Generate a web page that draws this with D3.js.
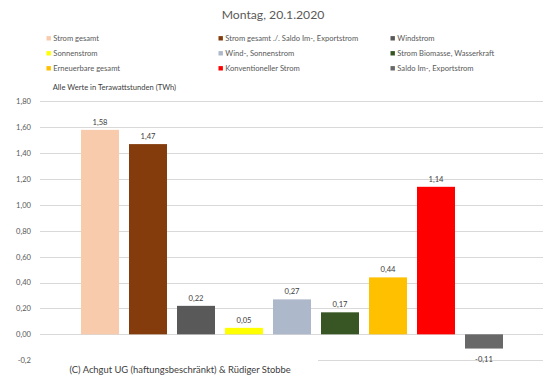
<!DOCTYPE html>
<html><head><meta charset="utf-8">
<script src="https://cdn.jsdelivr.net/npm/d3@7"></script>
<style>body{margin:0;background:#fff}svg{display:block}text{font-family:Lato,"Open Sans",sans-serif}</style>
</head><body>
<script>
const categories = ["Strom gesamt","Strom gesamt ./. Saldo Im-, Exportstrom","Windstrom","Sonnenstrom","Wind-, Sonnenstrom","Strom Biomasse, Wasserkraft","Erneuerbare gesamt","Konventioneller Strom","Saldo Im-, Exportstrom"];
const values = [1.58,1.47,0.22,0.05,0.27,0.17,0.44,1.14,-0.11];
const colors = ["#F8CBAD","#843C0C","#595959","#FFFF00","#ADB9CA","#375623","#FFC000","#FF0000","#686868"];
const tickValues = [-0.2,0,0.2,0.4,0.6,0.8,1.0,1.2,1.4,1.6,1.8];
const tickLabels = ["-0,2","0,00","0,20","0,40","0,60","0,80","1,00","1,20","1,40","1,60","1,80"];
const title = "Montag, 20.1.2020";
const unitNote = "Alle Werte in Terawattstunden (TWh)";
const credit = "(C) Achgut UG (haftungsbeschränkt) & Rüdiger Stobbe";

const W=546,H=382;
const svg=d3.select("body").append("svg").attr("width",W).attr("height",H);
const fmt=v=>v.toFixed(2).replace(".",",");

const y=d3.scaleLinear().domain([-0.2,1.8]).range([360.2,101.4]);
const x=d3.scaleBand().domain(categories).range([76,508]).paddingInner(10/48).paddingOuter(5/48);

// title
svg.append("text").attr("x",273).attr("y",19).attr("text-anchor","middle")
  .attr("font-size",12.2).attr("fill","#595959").text(title);

// legend
const lg=svg.append("g");
categories.forEach((c,i)=>{
  const col=i%3,row=Math.floor(i/3);
  const lx=46.5+col*172, ly=38.3+row*15;
  lg.append("rect").attr("x",lx).attr("y",ly-2.2).attr("width",4.4).attr("height",4.4).attr("fill",colors[i]);
  lg.append("text").attr("x",lx+6.8).attr("y",ly+2.8).attr("font-size",7.6).attr("fill","#595959").text(c);
});

svg.append("text").attr("x",52.7).attr("y",90).attr("font-size",7.6).attr("fill","#404040").text(unitNote);

// grid
const grid=svg.append("g");
grid.selectAll("line").data(tickValues).join("line")
  .attr("x1",40).attr("x2",543).attr("y1",d=>Math.round(y(d))+0.5).attr("y2",d=>Math.round(y(d))+0.5)
  .attr("stroke","#D9D9D9").attr("stroke-width",1);

// y axis labels
const yAxis=d3.axisLeft(y).tickValues(tickValues).tickSize(0).tickPadding(0)
  .tickFormat((d,i)=>tickLabels[i]);
const ya=svg.append("g").attr("transform","translate(31,0)").call(yAxis);
ya.select(".domain").remove();
ya.selectAll("text").attr("font-size",7.6).attr("fill","#595959").attr("font-family","Lato,sans-serif");

// bars
svg.append("g").selectAll("rect").data(values).join("rect")
  .attr("x",(d,i)=>x(categories[i])).attr("width",x.bandwidth())
  .attr("y",d=>y(Math.max(0,d))).attr("height",d=>Math.abs(y(d)-y(0)))
  .attr("fill",(d,i)=>colors[i]);

// data labels
svg.append("g").selectAll("text").data(values).join("text")
  .attr("x",(d,i)=>x(categories[i])+x.bandwidth()/2)
  .attr("y",d=>d>=0? y(d)-5 : y(d)+13)
  .attr("text-anchor","middle").attr("font-size",7.6).attr("fill","#404040")
  .text(d=>fmt(d));

// credit box
svg.append("rect").attr("x",40).attr("y",356).attr("width",278).attr("height",20).attr("fill","#fff");
svg.append("text").attr("x",69.5).attr("y",372.5).attr("font-size",9.4).attr("fill","#404040").text(credit);
</script>
</body></html>
